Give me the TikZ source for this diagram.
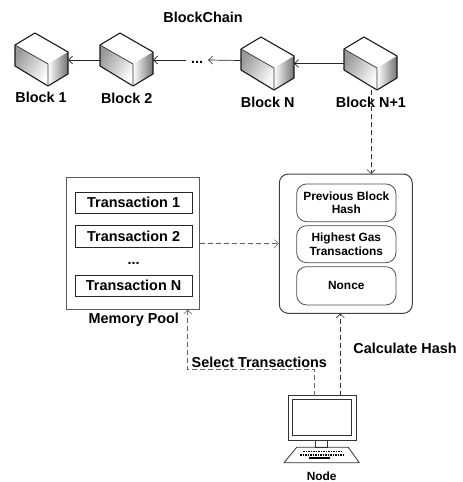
\documentclass[tikz,border=0pt]{standalone}
\usepackage{fontspec}
\setmainfont{Liberation Sans}
\usetikzlibrary{arrows.meta}
\tikzset{
  bigtext/.style={font=\fontsize{14.4}{16}\selectfont\bfseries, inner sep=0pt},
  smalltext/.style={font=\fontsize{11.9}{13.4}\selectfont\bfseries, inner sep=0pt, align=center},
  cubebox/.style={minimum width=53pt, minimum height=53pt, inner sep=0pt},
  txbox/.style={rectangle, draw=black!85, line width=0.8pt, minimum width=116.7pt, minimum height=21.3pt, inner sep=0pt, font=\fontsize{14.4}{16}\selectfont\bfseries},
  fieldbox/.style={rectangle, rounded corners=10pt, draw=black!70, line width=0.8pt, minimum width=99.3pt, inner sep=0pt, font=\fontsize{11.9}{13.4}\selectfont\bfseries, align=center},
  solidarrow/.style={line width=0.7pt, draw=black!85, -{Straight Barb[length=4pt,width=8pt,line width=0.6pt]}},
  dasharrow/.style={line width=0.7pt, draw=black!80, dash pattern=on 5pt off 3pt, -{Straight Barb[length=4pt,width=8pt,line width=0.6pt]}},
  grayarrow/.style={line width=0.9pt, draw=black!60, dash pattern=on 5pt off 3pt, -{Straight Barb[length=4pt,width=8pt,line width=0.6pt]}},
}
\newcommand{\blockcube}[2]{
\node (#1) [cubebox] at (#2) {};
\begin{scope}[shift={(#2)}]
\shade [left color=black!40, right color=white, shading angle=60] (-26.5pt,14.5pt) -- (6.5pt,-4.5pt) -- (6.5pt,-26.5pt) -- (-26.5pt,-6.5pt) -- cycle;
\shade [left color=white, right color=black!55] (6.5pt,-4.5pt) -- (26.5pt,7.5pt) -- (26.5pt,-14.5pt) -- (6.5pt,-26.5pt) -- cycle;
\draw [line width=1.1pt, line join=round, draw=black!90] (-26.5pt,14.5pt) -- (-6.5pt,26.5pt) -- (26.5pt,7.5pt) -- (26.5pt,-14.5pt) -- (6.5pt,-26.5pt) -- (-26.5pt,-6.5pt) -- cycle;
\draw [line width=0.7pt, draw=black!80] (-26.5pt,14.5pt) -- (6.5pt,-4.5pt) -- (6.5pt,-26.5pt);
\end{scope}
}

\begin{document}
\begin{tikzpicture}
\useasboundingbox (0pt, 0pt) rectangle (463pt, -482pt);
% chain
\node (title) [bigtext] at (203pt, -17.5pt) {BlockChain};
\blockcube{block1}{41.5pt, -59.5pt}
\blockcube{block2}{126.5pt, -59.5pt}
\blockcube{blockn}{267.5pt, -63.5pt}
\blockcube{blocknext}{370.5pt, -63.5pt}
\node (label1) [bigtext] at (41pt, -97.7pt) {Block 1};
\node (label2) [bigtext] at (126.7pt, -98.7pt) {Block 2};
\node (labeln) [bigtext] at (267.7pt, -102.3pt) {Block N};
\node (labelnext) [bigtext] at (371pt, -102.3pt) {Block N+1};
\node (dots) [bigtext, minimum width=22pt] at (197pt, -62pt) {...};
\draw [solidarrow] ([yshift=-0.5pt]block2.west) -- ([yshift=-0.5pt]block1.east);
\draw [solidarrow] ([yshift=2pt]dots.west) -- ([yshift=-0.5pt]block2.east);
\draw [solidarrow] ([yshift=3pt]blockn.west) -- ([yshift=2pt]dots.east);
\draw [solidarrow] (blocknext.west) -- (blockn.east);
% memory pool
\node (pool) [rectangle, draw=black!65, line width=1pt, minimum width=132.6pt, minimum height=132pt, inner sep=0pt] at (133pt, -243.3pt) {};
\node (tx1) [txbox] at (133.6pt, -202.7pt) {Transaction 1};
\node (tx2) [txbox] at (133.6pt, -236.3pt) {Transaction 2};
\node (txdots) [bigtext] at (133.6pt, -263pt) {...};
\node (txn) [txbox] at (133.6pt, -285.8pt) {Transaction N};
\node (poolname) [bigtext] at (133.8pt, -319.3pt) {Memory Pool};
% candidate block
\node (candidate) [rectangle, rounded corners=9pt, draw=black!75, line width=1pt, minimum width=133pt, minimum height=139.3pt, inner sep=0pt] at (345.8pt, -243.7pt) {};
\node (prevhash) [fieldbox, minimum height=37.7pt] at (346.3pt, -202.8pt) {Previous Block\\Hash};
\node (gastx) [fieldbox, minimum height=37pt] at (346.3pt, -244.2pt) {Highest Gas\\Transactions};
\node (nonce) [fieldbox, minimum height=38.3pt] at (346.3pt, -285.8pt) {Nonce};
% node computer
\node (monitor) [rectangle, draw=black!80, line width=0.8pt, minimum width=67.7pt, minimum height=44.7pt, inner sep=0pt] at (322.2pt, -417.7pt) {};
\node (screen) [rectangle, draw=black!80, line width=1pt, minimum width=59.3pt, minimum height=36.3pt, inner sep=0pt] at (322.3pt, -417.8pt) {};
\node (neck) [rectangle, draw=black!80, line width=0.8pt, minimum width=12pt, minimum height=7.3pt, inner sep=0pt] at (321.7pt, -443.7pt) {};
\draw [line width=0.8pt, draw=black!80, line join=round] (296.7pt, -447.3pt) -- (348.3pt, -447.3pt) -- (359.3pt, -462.7pt) -- (284pt, -462.7pt) -- cycle;
\draw [line width=1.2pt, dash pattern=on 1.5pt off 1pt] (303pt, -451.7pt) -- (342pt, -451.7pt);
\draw [line width=1.2pt, dash pattern=on 1.5pt off 1pt] (300pt, -455pt) -- (345pt, -455pt);
\draw [line width=1.4pt] (309pt, -458pt) -- (330pt, -458pt);
\node (nodename) [smalltext] at (321.7pt, -476.7pt) {Node};
% dashed links
\coordinate (hashstart) at (340.3pt, -396pt);
\coordinate (hashend) at (340.3pt, -313.4pt);
\coordinate (selectstart) at (314.7pt, -396pt);
\coordinate (selectend) at (187.7pt, -309.6pt);
\coordinate (newtop) at (371pt, -90pt);
\coordinate (newbottom) at (371pt, -174pt);
\draw [dasharrow] (newtop) -- (newbottom);
\draw [grayarrow] (pool.east) -- (candidate.west);
\draw [dasharrow] (hashstart) -- (hashend);
\draw [grayarrow] (selectstart) -- (314.7pt, -369.3pt) -- (187.7pt, -369.3pt) -- (selectend);
\node (selectlabel) [bigtext] at (259.3pt, -362pt) {Select Transactions};
\node (hashlabel) [bigtext] at (405pt, -348.3pt) {Calculate Hash};
\end{tikzpicture}
\end{document}
